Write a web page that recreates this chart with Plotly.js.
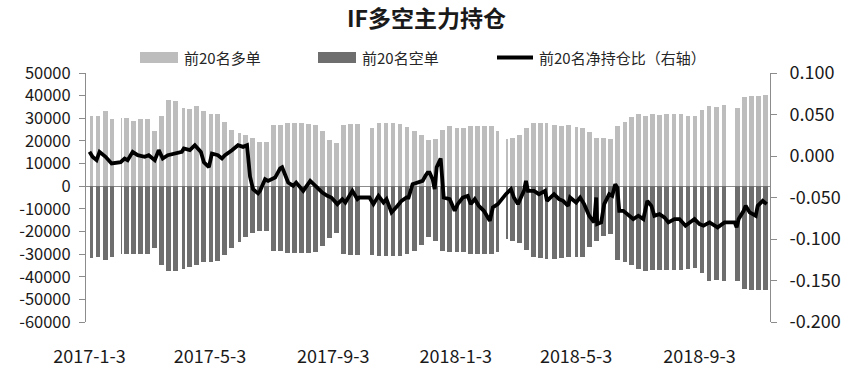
<!DOCTYPE html>
<html>
<head>
<meta charset="utf-8">
<script src="https://cdn.plot.ly/plotly-3.0.1.min.js"></script>
<style>
  html, body { margin: 0; padding: 0; background: #ffffff; }
  #chart { width: 853px; height: 369px; }
</style>
</head>
<body>
<div id="chart"></div>
<script>
// ---- Data ----
// Trading weeks: first and last trading day of each week
const weekFirst = ['2017-01-03','2017-01-09','2017-01-16','2017-01-23','2017-02-03','2017-02-06','2017-02-13','2017-02-20','2017-02-27','2017-03-06','2017-03-13','2017-03-20','2017-03-27','2017-04-05','2017-04-10','2017-04-17','2017-04-24','2017-05-02','2017-05-08','2017-05-15','2017-05-22','2017-05-31','2017-06-05','2017-06-12','2017-06-19','2017-06-26','2017-07-03','2017-07-10','2017-07-17','2017-07-24','2017-07-31','2017-08-07','2017-08-14','2017-08-21','2017-08-28','2017-09-04','2017-09-11','2017-09-18','2017-09-25','2017-10-09','2017-10-16','2017-10-23','2017-10-30','2017-11-06','2017-11-13','2017-11-20','2017-11-27','2017-12-04','2017-12-11','2017-12-18','2017-12-25','2018-01-02','2018-01-08','2018-01-15','2018-01-22','2018-01-29','2018-02-05','2018-02-12','2018-02-22','2018-02-26','2018-03-05','2018-03-12','2018-03-19','2018-03-26','2018-04-02','2018-04-09','2018-04-16','2018-04-23','2018-05-02','2018-05-07','2018-05-14','2018-05-21','2018-05-28','2018-06-04','2018-06-11','2018-06-19','2018-06-25','2018-07-02','2018-07-09','2018-07-16','2018-07-23','2018-07-30','2018-08-06','2018-08-13','2018-08-20','2018-08-27','2018-09-03','2018-09-10','2018-09-17','2018-09-25','2018-10-08','2018-10-15','2018-10-22','2018-10-29','2018-11-05'];
const weekLast = ['2017-01-06','2017-01-13','2017-01-20','2017-01-26','2017-02-03','2017-02-10','2017-02-17','2017-02-24','2017-03-03','2017-03-10','2017-03-17','2017-03-24','2017-03-31','2017-04-07','2017-04-14','2017-04-21','2017-04-28','2017-05-05','2017-05-12','2017-05-19','2017-05-26','2017-06-02','2017-06-09','2017-06-16','2017-06-23','2017-06-30','2017-07-07','2017-07-14','2017-07-21','2017-07-28','2017-08-04','2017-08-11','2017-08-18','2017-08-25','2017-09-01','2017-09-08','2017-09-15','2017-09-22','2017-09-29','2017-10-13','2017-10-20','2017-10-27','2017-11-03','2017-11-10','2017-11-17','2017-11-24','2017-12-01','2017-12-08','2017-12-15','2017-12-22','2017-12-29','2018-01-05','2018-01-12','2018-01-19','2018-01-26','2018-02-02','2018-02-09','2018-02-14','2018-02-23','2018-03-02','2018-03-09','2018-03-16','2018-03-23','2018-03-30','2018-04-04','2018-04-13','2018-04-20','2018-04-27','2018-05-04','2018-05-11','2018-05-18','2018-05-25','2018-06-01','2018-06-08','2018-06-15','2018-06-22','2018-06-29','2018-07-06','2018-07-13','2018-07-20','2018-07-27','2018-08-03','2018-08-10','2018-08-17','2018-08-24','2018-08-31','2018-09-07','2018-09-14','2018-09-21','2018-09-28','2018-10-12','2018-10-19','2018-10-26','2018-11-02','2018-11-09'];

// 前20名多单 (long positions)
const longTop20 = [31200,31000,33000,29700,30000,30000,28700,29800,29800,24500,31000,38000,37500,34500,34000,35500,33000,32000,32000,28500,25000,23500,22500,21500,19500,19500,27000,27200,27800,27800,27800,27500,27000,24500,20500,19000,27000,27500,27500,25500,27800,27800,27800,27500,26000,24500,22500,20500,21000,25000,26400,
  25600,25600,26700,26700,26700,26700,24500,21000,21500,22500,25500,28000,28000,28000,27000,26500,27000,26000,25500,24000,21500,21500,21000,26500,28500,30500,31800,31000,32000,31500,32000,32000,32000,31000,31000,33500,35300,35000,35800,34500,39500,40000,39800,40200];

// 前20名空单 (short positions)
const shortTop20 = [-31600,-31500,-32700,-31400,-30000,-30000,-30000,-30000,-30000,-27500,-35000,-37500,-37500,-36500,-35800,-35000,-33500,-33500,-33000,-30500,-27500,-24500,-22500,-20500,-20000,-20000,-28700,-28800,-29600,-29600,-29600,-29500,-29000,-26500,-23000,-20500,-30000,-30400,-30400,-30500,-31000,-31000,-31000,-31000,-30000,-28500,-26000,-22500,-24000,-28500,-29000,
  -29000,-29000,-30000,-30000,-30000,-30000,-29000,-23500,-24000,-25000,-28000,-31500,-31800,-32000,-32000,-31800,-31500,-31500,-31500,-27000,-24000,-22000,-21000,-32500,-33500,-35000,-36500,-37500,-37000,-37000,-37000,-37000,-37000,-36500,-36000,-38500,-41700,-41500,-42000,-42000,-45500,-45800,-45800,-45800];

// 前20名净持仓比 (right axis)
const ratioDates = ['2017-01-03','2017-01-06','2017-01-10','2017-01-13','2017-01-19','2017-01-25','2017-02-03','2017-02-07','2017-02-10','2017-02-15','2017-02-20','2017-02-27','2017-03-03','2017-03-09','2017-03-13','2017-03-17','2017-03-22','2017-03-29','2017-04-05','2017-04-07','2017-04-13','2017-04-18','2017-04-24','2017-04-27','2017-05-02','2017-05-05','2017-05-11','2017-05-15','2017-05-18','2017-05-25','2017-05-31','2017-06-05','2017-06-09','2017-06-12','2017-06-15','2017-06-20','2017-06-22','2017-06-27','2017-06-30','2017-07-07','2017-07-12','2017-07-14','2017-07-20','2017-07-25','2017-07-28','2017-08-04','2017-08-11','2017-08-18','2017-08-23','2017-08-28','2017-09-01','2017-09-07','2017-09-12','2017-09-15','2017-09-22','2017-09-27','2017-09-29','2017-10-09','2017-10-13','2017-10-18','2017-10-23','2017-10-26','2017-10-31','2017-11-06','2017-11-10','2017-11-15','2017-11-17','2017-11-21','2017-11-27','2017-12-01','2017-12-04','2017-12-06','2017-12-08','2017-12-11','2017-12-13','2017-12-15','2017-12-19','2017-12-20','2017-12-22','2017-12-28',
  '2018-01-02','2018-01-05','2018-01-10','2018-01-15','2018-01-18','2018-01-22','2018-01-26','2018-01-31','2018-02-06','2018-02-09','2018-02-14','2018-02-22','2018-02-27','2018-03-02','2018-03-06','2018-03-12','2018-03-14','2018-03-16','2018-03-22','2018-03-27','2018-04-02','2018-04-04','2018-04-11','2018-04-16','2018-04-20','2018-04-25','2018-04-27','2018-05-03','2018-05-07','2018-05-11','2018-05-16','2018-05-21','2018-05-23','2018-05-24','2018-05-28','2018-05-31','2018-06-05','2018-06-08','2018-06-11','2018-06-13','2018-06-15','2018-06-19','2018-06-25','2018-06-29','2018-07-04','2018-07-09','2018-07-13','2018-07-17','2018-07-20','2018-07-25','2018-07-30','2018-08-03','2018-08-09','2018-08-14','2018-08-20','2018-08-24','2018-08-29','2018-09-03','2018-09-07','2018-09-13','2018-09-18','2018-09-21','2018-09-28','2018-10-08','2018-10-10','2018-10-12','2018-10-17','2018-10-19','2018-10-23','2018-10-29','2018-10-31','2018-11-05','2018-11-09'];
const ratioValues = [0.005,-0.001,-0.005,0.005,-0.001,-0.009,-0.0075,-0.003,-0.005,0.005,0.001,-0.001,0.001,-0.005,0.007,-0.003,0.001,0.003,0.005,0.009,0.007,0.013,0.005,-0.0075,-0.0135,0.003,0.001,-0.003,0.001,0.007,0.013,0.011,0.013,-0.025,-0.040,-0.045,-0.042,-0.028,-0.030,-0.026,-0.015,-0.0135,-0.032,-0.036,-0.032,-0.042,-0.030,-0.038,-0.044,-0.048,-0.050,-0.058,-0.052,-0.056,-0.042,-0.052,-0.050,-0.050,-0.058,-0.048,-0.056,-0.052,-0.068,-0.060,-0.054,-0.050,-0.050,-0.034,-0.032,-0.030,-0.0235,-0.020,-0.020,-0.028,-0.040,-0.0135,-0.003,-0.022,-0.050,-0.052,
  -0.066,-0.058,-0.050,-0.048,-0.058,-0.052,-0.060,-0.066,-0.078,-0.062,-0.058,-0.046,-0.040,-0.050,-0.058,-0.042,-0.030,-0.042,-0.042,-0.046,-0.042,-0.054,-0.046,-0.052,-0.054,-0.060,-0.050,-0.056,-0.050,-0.058,-0.072,-0.080,-0.050,-0.082,-0.080,-0.058,-0.046,-0.048,-0.034,-0.038,-0.066,-0.066,-0.072,-0.076,-0.072,-0.076,-0.054,-0.060,-0.072,-0.070,-0.074,-0.080,-0.076,-0.076,-0.084,-0.080,-0.076,-0.082,-0.084,-0.080,-0.084,-0.086,-0.080,-0.080,-0.086,-0.076,-0.066,-0.060,-0.068,-0.072,-0.060,-0.054,-0.058];

// Tick labels
const xTickDates = ['2017-01-03','2017-05-03','2017-09-03','2018-01-03','2018-05-03','2018-09-03'];
const xTickLabels = ['2017-1-3','2017-5-3','2017-9-3','2018-1-3','2018-5-3','2018-9-3'];
const leftTicks = [50000,40000,30000,20000,10000,0,-10000,-20000,-30000,-40000,-50000,-60000];
const rightTicks = [0.1,0.05,0,-0.05,-0.1,-0.15,-0.2];

const seriesNames = ['前20名多单','前20名空单','前20名净持仓比（右轴）'];
const chartTitle = 'IF多空主力持仓';

// ---- Build bar geometry from the week boundaries ----
const DAY = 86400000;
function toMs(s){ const p = s.split('-').map(Number); return Date.UTC(p[0], p[1]-1, p[2]); }
function msToStr(ms){ const d = new Date(ms); const pad = n => String(n).padStart(2,'0');
  return d.getUTCFullYear()+'-'+pad(d.getUTCMonth()+1)+'-'+pad(d.getUTCDate())+' '+pad(d.getUTCHours())+':'+pad(d.getUTCMinutes()); }
const barX = [], barW = [];
for (let i = 0; i < weekFirst.length; i++) {
  const a = toMs(weekFirst[i]), b = toMs(weekLast[i]) + DAY;
  barX.push(msToStr((a + b) / 2));
  barW.push((b - a) - 0.15 * DAY);
}

const FONT = '"Noto Sans CJK SC", "Noto Sans", sans-serif';
const AXIS_COL = '#8c8c8c';
const TXT = '#1a1a1a';

const traces = [
  { type: 'bar', x: barX, y: longTop20, width: barW, name: seriesNames[0],
    marker: { color: '#bdbdbd', line: { width: 0 } }, showlegend: false, hoverinfo: 'x+y' },
  { type: 'bar', x: barX, y: shortTop20, width: barW, name: seriesNames[1],
    marker: { color: '#6e6e6e', line: { width: 0 } }, showlegend: false, hoverinfo: 'x+y' },
  { type: 'scatter', mode: 'lines', x: ratioDates, y: ratioValues, yaxis: 'y2', name: seriesNames[2],
    line: { color: '#000000', width: 3.8 }, showlegend: false }
];

// plot area: x 86..770, y 73..322
const PL = 86, PR = 770, PT = 73, PB = 322;
const px = v => (v - PL) / (PR - PL);
const py = v => (PB - v) / (PB - PT);

const legendItems = [
  { kind: 'rect', color: '#bdbdbd', x0: 140, x1: 178, text: seriesNames[0], tx: 182 },
  { kind: 'rect', color: '#6e6e6e', x0: 318, x1: 356, text: seriesNames[1], tx: 360 },
  { kind: 'line', color: '#000000', x0: 497, x1: 533, text: seriesNames[2], tx: 537 }
];
const shapes = [], annotations = [];
legendItems.forEach(it => {
  if (it.kind === 'rect') {
    shapes.push({ type: 'rect', xref: 'paper', yref: 'paper', x0: px(it.x0), x1: px(it.x1),
      y0: py(63), y1: py(52), fillcolor: it.color, line: { width: 0 } });
  } else {
    shapes.push({ type: 'line', xref: 'paper', yref: 'paper', x0: px(it.x0), x1: px(it.x1),
      y0: py(57.5), y1: py(57.5), line: { color: it.color, width: 4 } });
  }
  annotations.push({ xref: 'paper', yref: 'paper', x: px(it.tx), y: py(57.5), xanchor: 'left', yanchor: 'middle',
    text: it.text, showarrow: false, font: { family: FONT, size: 15, color: '#262626' } });
});

const layout = {
  width: 853, height: 369,
  margin: { l: PL, r: 853 - PR, t: PT, b: 369 - PB, pad: 0 },
  paper_bgcolor: '#ffffff', plot_bgcolor: '#ffffff',
  barmode: 'overlay', bargap: 0,
  showlegend: false,
  title: { text: '<b>' + chartTitle + '</b>', font: { family: FONT, size: 23, color: TXT },
    x: 0.5, xref: 'container', xanchor: 'center', y: 1 - 19 / 369, yref: 'container', yanchor: 'middle' },
  font: { family: FONT, size: 17, color: TXT },
  xaxis: {
    type: 'date', range: ['2016-12-30 12:00', '2018-11-12 06:00'],
    tickmode: 'array', tickvals: xTickDates, ticktext: xTickLabels,
    ticks: 'outside', ticklen: 18, tickcolor: 'rgba(0,0,0,0)',
    showline: false, showgrid: false, zeroline: false,
    tickfont: { family: FONT, size: 18, color: TXT }
  },
  yaxis: {
    range: [-60000, 50000], tickmode: 'array', tickvals: leftTicks, ticktext: leftTicks.map(v => String(v)),
    ticks: 'outside', ticklen: 6, tickcolor: AXIS_COL, ticklabelstandoff: 5,
    showline: true, linecolor: AXIS_COL, linewidth: 1, showgrid: false,
    zeroline: true, zerolinecolor: AXIS_COL, zerolinewidth: 1.2,
    tickfont: { family: FONT, size: 16.5, color: TXT }
  },
  yaxis2: {
    overlaying: 'y', side: 'right', range: [-0.2, 0.1],
    tickmode: 'array', tickvals: rightTicks, ticktext: rightTicks.map(v => v.toFixed(3)),
    ticks: 'outside', ticklen: 6, tickcolor: AXIS_COL, ticklabelstandoff: 9,
    showline: true, linecolor: AXIS_COL, linewidth: 1, showgrid: false, zeroline: false,
    tickfont: { family: FONT, size: 18, color: TXT }
  },
  shapes: shapes,
  annotations: annotations
};

Plotly.newPlot('chart', traces, layout, { displayModeBar: false, staticPlot: true });
</script>
</body>
</html>
